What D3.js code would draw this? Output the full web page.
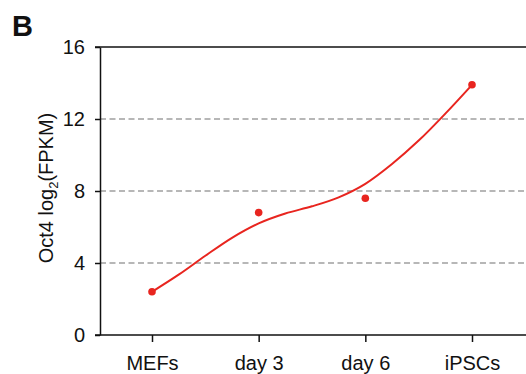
<!DOCTYPE html>
<html><head><meta charset="utf-8">
<script src="https://cdn.jsdelivr.net/npm/d3@7"></script>
<style>body{margin:0;background:#fff;}svg{display:block;font-family:"Liberation Sans",Arial,sans-serif;}</style>
</head><body>
<svg id="c" width="526" height="374"></svg>
<script>
const categories = ["MEFs", "day 3", "day 6", "iPSCs"];
const values = [2.4, 6.8, 7.6, 13.9];
const yTicks = [0, 4, 8, 12, 16];
const gridValues = [4, 8, 12];
const fitPos = [0, 0.25, 0.5, 0.75, 1, 1.25, 1.5, 1.75, 2, 2.25, 2.5, 2.75, 3];
const fitVal = [2.4, 3.35, 4.4, 5.4, 6.2, 6.75, 7.15, 7.65, 8.4, 9.5, 10.8, 12.3, 13.9];

const svg = d3.select("#c");
const mLeft = 100, mRight = 526, mTop = 47, mBottom = 335;
const y = d3.scaleLinear().domain([0, 16]).range([mBottom, mTop]);
const x = d3.scalePoint().domain(categories).range([152, 472]);
const xf = d3.scaleLinear().domain([0, categories.length - 1]).range([x(categories[0]), x(categories[categories.length - 1])]);

// grid
svg.append("g").selectAll("line").data(gridValues).join("line")
  .attr("x1", mLeft).attr("x2", mRight)
  .attr("y1", d => y(d)).attr("y2", d => y(d))
  .attr("stroke", "#a0a0a0").attr("stroke-width", 1.3).attr("stroke-dasharray", "6,3.5");

// top frame line
svg.append("line").attr("x1", 95).attr("x2", mRight).attr("y1", mTop).attr("y2", mTop)
  .attr("stroke", "#111").attr("stroke-width", 1.5);

// y axis
const yAxis = svg.append("g").attr("transform", `translate(${mLeft},0)`)
  .call(d3.axisLeft(y).tickValues(yTicks).tickSize(5).tickPadding(10).tickSizeOuter(0));
yAxis.select(".domain").attr("stroke", "#111").attr("stroke-width", 1.5);
yAxis.selectAll(".tick line").attr("stroke", "#111").attr("stroke-width", 1.5);
yAxis.selectAll("text").attr("font-size", 20).attr("fill", "#111");

// x axis
const xAxis = svg.append("g").attr("transform", `translate(0,${mBottom})`)
  .call(d3.axisBottom(x).tickSize(7).tickPadding(14).tickSizeOuter(0));
xAxis.select(".domain").attr("d", `M95,0H${mRight}`).attr("stroke", "#111").attr("stroke-width", 1.5);
xAxis.selectAll(".tick line").attr("stroke", "#111").attr("stroke-width", 1.5);
xAxis.selectAll("text").attr("font-size", 20).attr("fill", "#111");

// fit curve
const line = d3.line().x((d, i) => xf(fitPos[i])).y(d => y(d)).curve(d3.curveCatmullRom);
svg.append("path").datum(fitVal).attr("d", line)
  .attr("fill", "none").attr("stroke", "#e8251f").attr("stroke-width", 2);

// points
svg.append("g").selectAll("circle").data(values).join("circle")
  .attr("cx", (d, i) => x(categories[i])).attr("cy", d => y(d)).attr("r", 3.8)
  .attr("fill", "#e8251f");

// y label
const yl = svg.append("text").attr("transform", "translate(53,188) rotate(-90)")
  .attr("text-anchor", "middle").attr("font-size", 20).attr("fill", "#111");
yl.append("tspan").text("Oct4 log");
yl.append("tspan").attr("font-size", 13).attr("dy", 5).text("2");
yl.append("tspan").attr("dy", -5).text("(FPKM)");

// panel letter
svg.append("text").attr("x", 12).attr("y", 36).attr("font-size", 29).attr("font-weight", "bold")
  .attr("fill", "#111").text("B");
</script>
</body></html>
